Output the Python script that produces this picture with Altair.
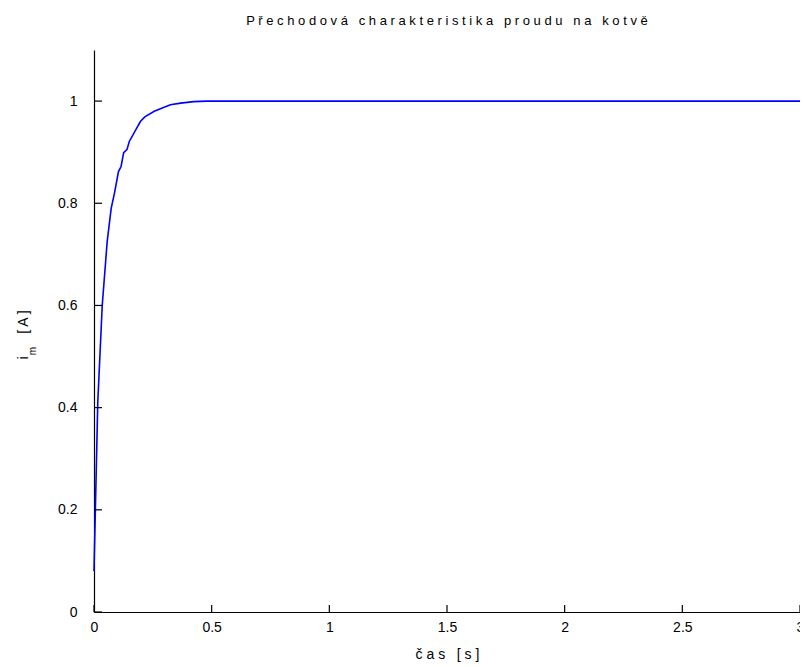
import altair as alt
import pandas as pd

# Step response of the armature current
t_vals = [0.0, 0.016, 0.035, 0.056, 0.073, 0.087, 0.104, 0.115, 0.126, 0.14, 0.15,
          0.178, 0.197, 0.216, 0.256, 0.298, 0.325, 0.368, 0.424, 0.48, 3.0]
i_vals = [0.08, 0.41, 0.60, 0.725, 0.79, 0.82, 0.862, 0.872, 0.899, 0.905, 0.921,
          0.944, 0.96, 0.969, 0.98, 0.988, 0.993, 0.996, 0.999, 1.0, 1.0]

x_ticks = [0, 0.5, 1, 1.5, 2, 2.5, 3]
y_ticks = [0, 0.2, 0.4, 0.6, 0.8, 1]

title_text = "Přechodová charakteristika proudu na kotvě"
x_title = "čas [s]"
y_title_main = "i"
y_title_sub = "m"
y_title_unit = "[A]"


def spaced(s):
    # letter-spaced text (word gaps kept with non-breaking spaces so SVG does not collapse them)
    return " ".join("\u00a0" if c == " " else c for c in s)


FONT = "Liberation Sans Narrow, Liberation Sans, Arial, sans-serif"
W, H = 706, 562

df = pd.DataFrame({"t": t_vals, "i": i_vals})
xt = pd.DataFrame({"t": x_ticks})
yt = pd.DataFrame({"i": y_ticks})

xscale = alt.Scale(domain=[0, 3], nice=False, zero=False)
yscale = alt.Scale(domain=[0, 1.1], nice=False)

line = alt.Chart(df).mark_line(color="#0000ff", strokeWidth=1.6, clip=False).encode(
    x=alt.X("t:Q", scale=xscale,
            axis=alt.Axis(values=x_ticks, format=".1~f", grid=False, ticks=False,
                          domainColor="black", domainWidth=1.2,
                          labelFont=FONT, labelFontSize=14, labelColor="black",
                          labelPadding=8, labelFlush=False, labelOverlap=False,
                          title=spaced(x_title), titleFont=FONT, titleFontSize=14,
                          titleFontWeight="normal", titleColor="black", titlePadding=13)),
    y=alt.Y("i:Q", scale=yscale,
            axis=alt.Axis(values=y_ticks, format=".1~f", grid=False, ticks=False,
                          domainColor="black", domainWidth=1.2,
                          labelFont=FONT, labelFontSize=14, labelColor="black",
                          labelPadding=17, labelFlush=False, labelOverlap=False,
                          title=None)),
)

xtick_rules = alt.Chart(xt).mark_rule(color="black", strokeWidth=1.2).encode(
    x=alt.X("t:Q", scale=xscale), y=alt.value(H), y2=alt.value(H - 7)
)
ytick_rules = alt.Chart(yt).mark_rule(color="black", strokeWidth=1.2).encode(
    y=alt.Y("i:Q", scale=yscale), x=alt.value(0), x2=alt.value(8)
)

ylab_main = alt.Chart(pd.DataFrame({"s": [y_title_main]})).mark_text(
    font=FONT, fontSize=14, angle=270, align="center", baseline="alphabetic", color="black"
).encode(text="s:N", x=alt.value(-66), y=alt.value(308))
ylab_sub = alt.Chart(pd.DataFrame({"s": [y_title_sub]})).mark_text(
    font=FONT, fontSize=10, angle=270, align="center", baseline="alphabetic", color="black"
).encode(text="s:N", x=alt.value(-58), y=alt.value(301))
ylab_unit = alt.Chart(pd.DataFrame({"s": [spaced(y_title_unit)]})).mark_text(
    font=FONT, fontSize=14, angle=270, align="center", baseline="alphabetic", color="black"
).encode(text="s:N", x=alt.value(-66), y=alt.value(272))

chart = alt.layer(line, xtick_rules, ytick_rules, ylab_main, ylab_sub, ylab_unit).properties(
    width=W, height=H,
    title=alt.TitleParams(spaced(title_text), font=FONT, fontSize=13, fontWeight="normal",
                          color="black", anchor="middle", offset=22),
    autosize=alt.AutoSizeParams(type="none"),
    padding={"left": 86, "top": 42, "right": 0, "bottom": 55},
    background="white",
).configure_view(stroke=None)

chart.save("out.html", embed_options={"renderer": "svg", "actions": False})
